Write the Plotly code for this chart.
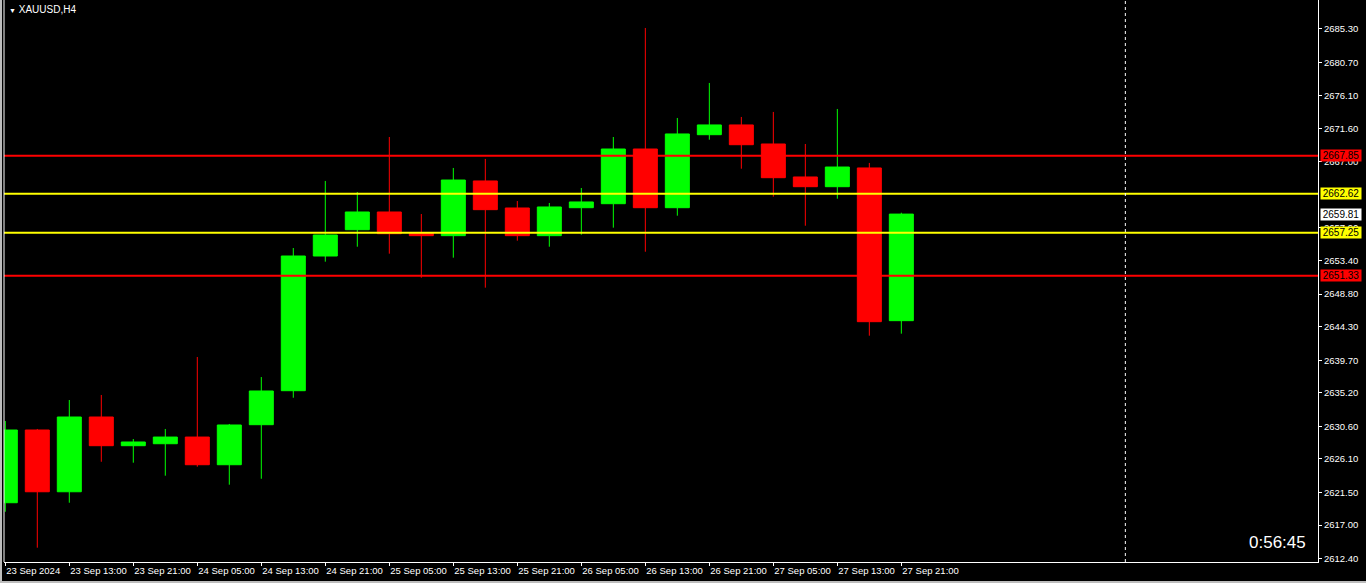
import plotly.graph_objects as go

# ---------------- data ----------------
bar_index = list(range(29))
opens = [2620.08, 2630.09, 2621.59, 2631.88, 2627.93, 2628.20, 2629.12, 2625.31, 2630.82, 2635.50,
         2654.04, 2657.66, 2660.10, 2657.25, 2656.84, 2664.37, 2660.65, 2656.84, 2660.69, 2661.24,
         2668.77, 2660.69, 2670.74, 2672.08, 2669.46, 2664.92, 2663.58, 2666.16, 2645.14]
highs = [2631.33, 2630.23, 2634.22, 2634.91, 2628.85, 2630.23, 2640.14, 2630.92, 2637.38, 2655.14,
         2664.37, 2662.85, 2670.42, 2659.82, 2666.16, 2667.40, 2661.61, 2661.34, 2663.40, 2670.42,
         2685.43, 2673.04, 2677.86, 2673.18, 2673.87, 2669.46, 2674.28, 2666.85, 2660.00]
lows = [2618.84, 2613.89, 2620.08, 2625.72, 2625.59, 2623.80, 2625.04, 2622.56, 2623.38, 2634.53,
        2653.26, 2655.32, 2654.36, 2651.05, 2653.81, 2649.68, 2656.15, 2655.32, 2656.97, 2657.94,
        2654.63, 2659.59, 2670.05, 2666.06, 2662.21, 2658.21, 2661.93, 2643.07, 2643.35]
closes = [2630.09, 2621.59, 2631.88, 2627.93, 2628.44, 2629.12, 2625.31, 2630.78, 2635.46, 2654.04,
          2656.93, 2660.10, 2657.11, 2656.84, 2664.50, 2660.42, 2656.84, 2660.79, 2661.48, 2668.77,
          2660.69, 2670.84, 2672.08, 2669.36, 2664.82, 2663.58, 2666.29, 2645.00, 2659.81]

time_tick_index = list(range(0, 29, 2))
time_tick_labels = ["23 Sep 2024", "23 Sep 13:00", "23 Sep 21:00", "24 Sep 05:00", "24 Sep 13:00",
                    "24 Sep 21:00", "25 Sep 05:00", "25 Sep 13:00", "25 Sep 21:00", "26 Sep 05:00",
                    "26 Sep 13:00", "26 Sep 21:00", "27 Sep 05:00", "27 Sep 13:00", "27 Sep 21:00"]

price_ticks = [2685.30, 2680.70, 2676.10, 2671.60, 2667.00, 2657.90, 2653.40, 2648.80,
               2644.30, 2639.70, 2635.20, 2630.60, 2626.10, 2621.50, 2617.00, 2612.40]

level_prices = [2667.85, 2662.62, 2657.25, 2651.33]
bid_price = 2659.81
separator_index = 35
symbol_title = "XAUUSD,H4"
timer_text = "0:56:45"

# ---------------- styles ----------------
GREEN = "#00FF00"
RED = "#FF0000"
YELLOW = "#FFFF00"
level_colors = [RED, YELLOW, YELLOW, RED]
FONT = "Liberation Sans, Arial, sans-serif"

fig = go.Figure()
fig.add_trace(go.Candlestick(
    x=bar_index, open=opens, high=highs, low=lows, close=closes,
    increasing=dict(line=dict(color=GREEN, width=1), fillcolor=GREEN),
    decreasing=dict(line=dict(color=RED, width=1), fillcolor=RED),
    whiskerwidth=0, showlegend=False, hoverinfo="skip",
))

shapes = []
for p, c in zip(level_prices, level_colors):
    shapes.append(dict(type="line", xref="paper", x0=0, x1=1, yref="y", y0=p, y1=p,
                       line=dict(color=c, width=2), layer="above"))
shapes.append(dict(type="line", xref="x", x0=separator_index, x1=separator_index,
                   yref="paper", y0=0, y1=1, line=dict(color="white", width=1, dash="3px,3px")))
shapes.append(dict(type="line", xref="paper", x0=0, x1=0, yref="paper", y0=0, y1=1,
                   line=dict(color="white", width=1)))
shapes.append(dict(type="rect", xref="paper", x0=-4/1314, x1=-2/1314, yref="paper", y0=-21/562, y1=1,
                   fillcolor="#BDBDBD", line=dict(width=0)))
shapes.append(dict(type="rect", xref="paper", x0=-4/1314, x1=1 + 48/1314, yref="paper",
                   y0=-21/562, y1=-19/562, fillcolor="#BDBDBD", line=dict(width=0)))

annotations = []
for p, c in zip(level_prices, level_colors):
    annotations.append(dict(xref="paper", x=1, xanchor="left", xshift=2, yref="y", y=p,
                            yanchor="middle", text=f"{p:.2f}", showarrow=False,
                            bgcolor=c, font=dict(family=FONT, size=10, color="black"),
                            width=40, height=11, borderpad=0, align="center"))
annotations.append(dict(xref="paper", x=1, xanchor="left", xshift=2, yref="y", y=bid_price,
                        yanchor="middle", text=f"{bid_price:.2f}", showarrow=False,
                        bgcolor="white", font=dict(family=FONT, size=10, color="black"),
                        width=40, height=11, borderpad=0, align="center"))
annotations.append(dict(xref="paper", x=0, xanchor="left", xshift=3, yref="paper", y=1,
                        yanchor="top", yshift=-2,
                        text="<span style='font-size:7px'>▼</span> " + symbol_title,
                        showarrow=False, font=dict(family=FONT, size=10, color="white")))
annotations.append(dict(xref="paper", x=1, xanchor="right", xshift=-10, yref="paper", y=0,
                        yanchor="middle", yshift=20, text=timer_text, showarrow=False,
                        font=dict(family=FONT, size=17, color="white")))

fig.update_layout(
    width=1366, height=583,
    paper_bgcolor="black", plot_bgcolor="black",
    margin=dict(l=4, r=48, t=0, b=21, autoexpand=False),
    boxgap=0.25, boxgroupgap=0,
    shapes=shapes, annotations=annotations,
    showlegend=False,
    xaxis=dict(range=[-0.0406, 41.02], rangeslider=dict(visible=False),
               showgrid=False, zeroline=False, automargin=False,
               showline=True, linecolor="white", linewidth=1,
               ticks="outside", ticklen=3, tickcolor="white", tickwidth=1,
               tickmode="array", tickvals=time_tick_index, ticktext=time_tick_labels,
               ticklabelposition="outside right", tickangle=0,
               tickfont=dict(family=FONT, size=9.5, color="white"),
               fixedrange=True),
    yaxis=dict(range=[2611.92, 2689.28], side="right",
               showgrid=False, zeroline=False, automargin=False,
               showline=True, linecolor="white", linewidth=1,
               ticks="outside", ticklen=3, tickcolor="white", tickwidth=1,
               tickmode="array", tickvals=price_ticks,
               ticktext=[f"{v:.2f}" for v in price_ticks],
               tickfont=dict(family=FONT, size=9.5, color="white"),
               fixedrange=True),
)

fig.write_html("out.html", config={"displayModeBar": False},
               post_script="document.body.style.margin='0';document.body.style.background='black';")
